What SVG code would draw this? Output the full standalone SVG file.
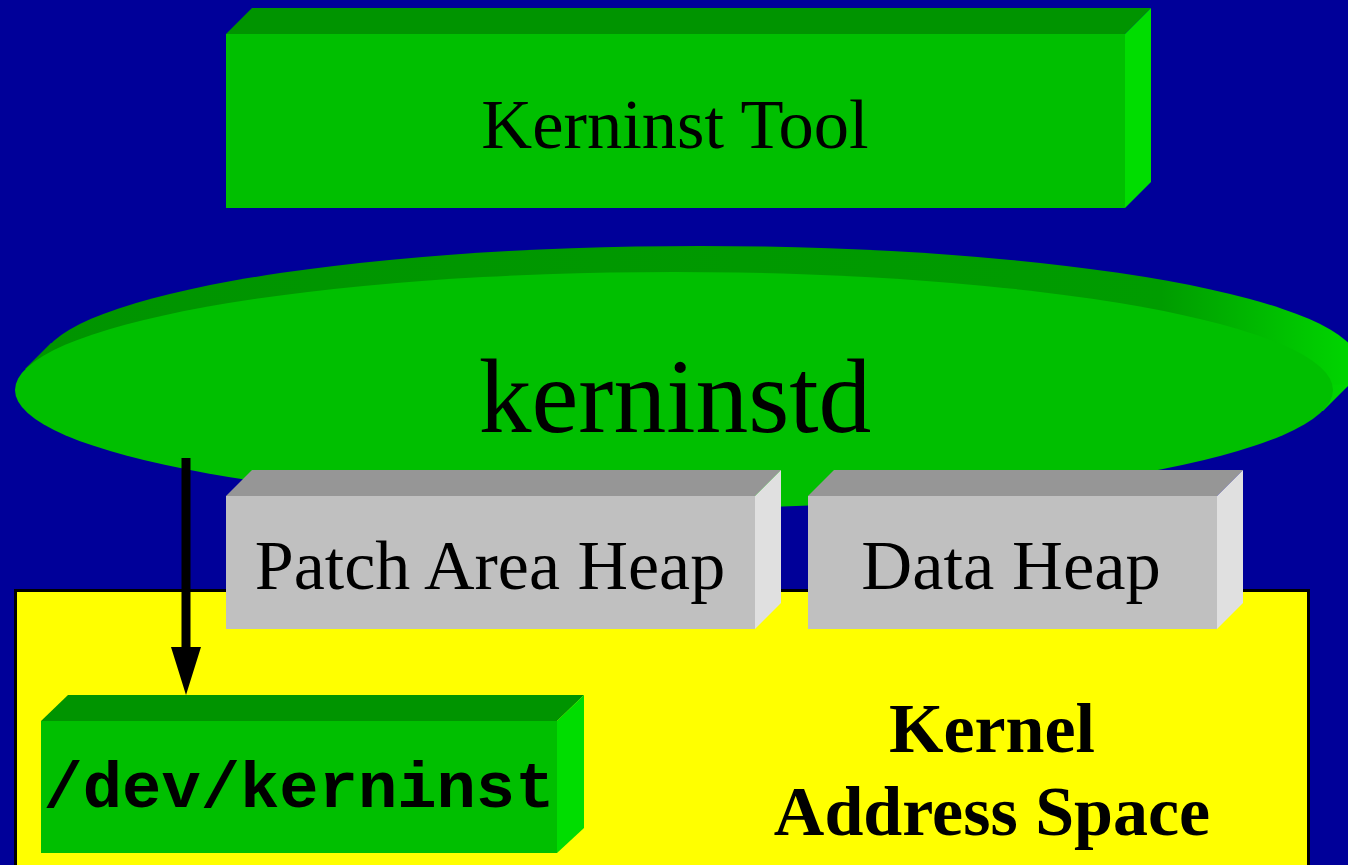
<svg xmlns="http://www.w3.org/2000/svg" width="1348" height="865" viewBox="0 0 1348 865">
<style>
.gf{fill:#00bf00}.gt{fill:#009400}.gr{fill:#00dd00}
.hf{fill:#c0c0c0}.ht{fill:#969696}.hr{fill:#e0e0e0}
.lbl{font-family:"Liberation Serif","Times New Roman",serif;fill:#000;text-anchor:middle}
.mono{font-family:"Liberation Mono","Courier New",monospace;font-weight:bold;fill:#000;text-anchor:middle}
</style>
<defs>
<linearGradient id="backG" x1="0" y1="0" x2="1" y2="0">
<stop offset="0" stop-color="#009400"/>
<stop offset="0.85" stop-color="#009c00"/>
<stop offset="1" stop-color="#00d800"/>
</linearGradient>
</defs>
<rect width="1348" height="865" fill="#000099"/>
<g id="kernel">
<rect x="15.5" y="590.5" width="1293" height="300" fill="#ffff00" stroke="#000" stroke-width="3"/>
<text class="lbl" x="992" y="752" font-size="70" font-weight="bold">Kernel</text>
<text class="lbl" x="992" y="835" font-size="70" font-weight="bold">Address Space</text>
</g>
<g id="tool">
<polygon class="gt" points="226,34 252,8 1151,8 1125,34"/>
<polygon class="gr" points="1125,34 1151,8 1151,182 1125,208"/>
<rect class="gf" x="226" y="34" width="899" height="174"/>
<text class="lbl" x="675" y="148" font-size="70.5">Kerninst Tool</text>
</g>
<g id="kerninstd">
<ellipse cx="700" cy="364" rx="659" ry="118" fill="url(#backG)"/>
<polygon fill="url(#backG)" points="25,369 51,343 1349,385 1323,411"/>
<ellipse class="gf" cx="674" cy="390" rx="659" ry="118"/>
<text class="lbl" x="675" y="432" font-size="105.5">kerninstd</text>
</g>
<g id="patchHeap">
<polygon class="ht" points="226,496 252,470 781,470 755,496"/>
<polygon class="hr" points="755,496 781,470 781,603 755,629"/>
<rect class="hf" x="226" y="496" width="529" height="133"/>
<text class="lbl" x="490" y="589" font-size="70">Patch Area Heap</text>
</g>
<g id="dataHeap">
<polygon class="ht" points="808,496 834,470 1243,470 1217,496"/>
<polygon class="hr" points="1217,496 1243,470 1243,603 1217,629"/>
<rect class="hf" x="808" y="496" width="409" height="133"/>
<text class="lbl" x="1011" y="589" font-size="70.5">Data Heap</text>
</g>
<g id="devkerninst">
<polygon class="gt" points="41,721 68,695 584,695 557,721"/>
<polygon class="gr" points="557,721 584,695 584,828 557,853"/>
<rect class="gf" x="41" y="721" width="516" height="132"/>
<text class="mono" x="299" y="807" font-size="65.5">/dev/kerninst</text>
</g>
<g id="connectors">
<line x1="186" y1="458" x2="186" y2="650" stroke="#000" stroke-width="9"/>
<polygon points="171,647 201,647 186,695" fill="#000"/>
</g>
</svg>
